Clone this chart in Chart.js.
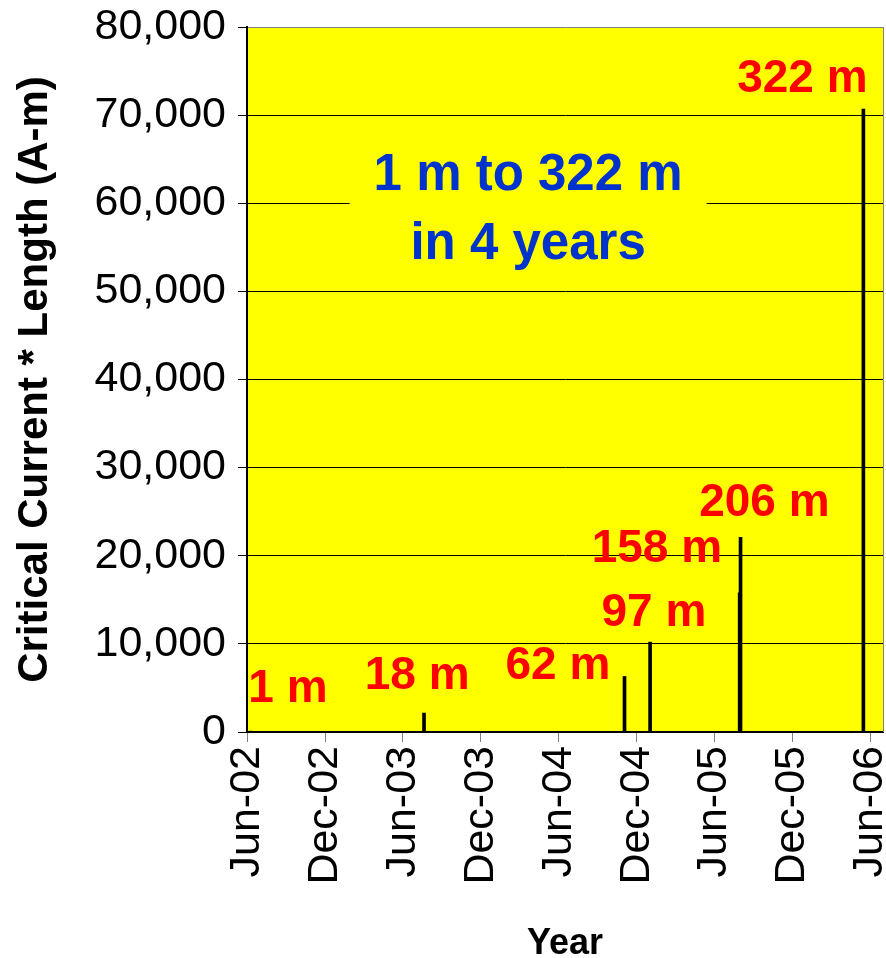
<!DOCTYPE html>
<html>
<head>
<meta charset="utf-8">
<script src="https://cdn.jsdelivr.net/npm/chart.js@4.4.1/dist/chart.umd.min.js"></script>
<style>
  html, body { margin: 0; padding: 0; background: #fff; }
</style>
</head>
<body>
<canvas id="chart" width="886" height="958"></canvas>
<script>
// Tape lengths and the Ic * L value reached at each date
const lengths = ['1 m', '18 m', '62 m', '97 m', '158 m', '206 m', '322 m'];
const sampleDates = ['2002-06-10', '2003-07-21', '2004-11-02', '2005-01-01', '2005-07-30', '2005-08-01', '2006-05-16'];
const icTimesLength = [100, 2150, 6300, 10200, 15800, 22100, 70700];

// Axis
const axisStart = '2002-06-01';
const axisEnd = '2006-07-01';
const tickDates = ['2002-06-01', '2002-12-01', '2003-06-01', '2003-12-01', '2004-06-01',
                   '2004-12-01', '2005-06-01', '2005-12-01', '2006-06-01'];
const yMax = 80000;
const yStep = 10000;

// Where each red length label sits (date of text centre, value at text baseline)
const labelDates = ['2002-09-05', '2003-07-05', '2004-05-30', '2005-01-10', '2005-01-17', '2005-09-26', '2005-12-24'];
const labelValues = [3400, 4880, 6000, 12030, 19290, 24510, 72620];

// Headline box
const headline = ['1 m to 322 m', 'in 4 years'];
const headlineDate = '2004-03-21';
const headlineValues = [61560, 53670];

const months = ['Jan', 'Feb', 'Mar', 'Apr', 'May', 'Jun', 'Jul', 'Aug', 'Sep', 'Oct', 'Nov', 'Dec'];
const FONT = "'Liberation Sans', Arial, sans-serif";

function dayNum(s) {
    const p = s.split('-').map(Number);
    return Date.UTC(p[0], p[1] - 1, p[2]) / 864e5;
}
function fmtDate(v) {
    const d = new Date(Math.round(v) * 864e5);
    return months[d.getUTCMonth()] + '-' + String(d.getUTCFullYear() % 100).padStart(2, '0');
}

const points = sampleDates.map((d, i) => ({ x: dayNum(d), y: icTimesLength[i] }));

// yellow plot area, headline box and the red labels
const decorations = {
    id: 'decorations',
    beforeDraw(chart) {
        const { ctx, chartArea: a } = chart;
        ctx.save();
        ctx.fillStyle = '#FFFF00';
        ctx.fillRect(a.left, a.top, a.right - a.left, a.bottom - a.top);
        ctx.restore();
    },
    beforeDatasetsDraw(chart) {
        const { ctx, scales: { x, y } } = chart;
        const cx = x.getPixelForValue(dayNum(headlineDate));
        ctx.save();
        ctx.font = 'bold 51px ' + FONT;
        const w = Math.max(...headline.map(t => ctx.measureText(t).width));
        const top = y.getPixelForValue(headlineValues[0]) - 46;
        const bottom = y.getPixelForValue(headlineValues[1]) + 16;
        ctx.fillStyle = '#FFFF00';
        ctx.fillRect(cx - w / 2 - 24, top, w + 48, bottom - top);
        ctx.fillStyle = '#0033CC';
        ctx.textAlign = 'center';
        ctx.textBaseline = 'alphabetic';
        headline.forEach((t, i) => ctx.fillText(t, cx, y.getPixelForValue(headlineValues[i])));
        ctx.restore();
    },
    afterDatasetsDraw(chart) {
        const { ctx, chartArea: a, scales: { x, y } } = chart;
        ctx.save();
        ctx.font = 'bold 46px ' + FONT;
        ctx.fillStyle = '#FF0000';
        ctx.textAlign = 'center';
        ctx.textBaseline = 'alphabetic';
        lengths.forEach((t, i) => {
            ctx.fillText(t, x.getPixelForValue(dayNum(labelDates[i])), y.getPixelForValue(labelValues[i]));
        });
        // right plot border
        ctx.strokeStyle = '#808080';
        ctx.lineWidth = 1;
        ctx.beginPath();
        ctx.moveTo(a.right + 0.5, a.top);
        ctx.lineTo(a.right + 0.5, a.bottom);
        ctx.stroke();
        ctx.restore();
    }
};

new Chart(document.getElementById('chart').getContext('2d'), {
    type: 'bar',
    data: {
        datasets: [{
            label: 'Ic * L',
            data: points,
            backgroundColor: '#000',
            barThickness: 3
        }]
    },
    options: {
        responsive: false,
        animation: false,
        devicePixelRatio: 1,
        layout: { padding: { top: 27, right: 3, left: 0, bottom: 0 } },
        plugins: { legend: { display: false }, tooltip: { enabled: false } },
        scales: {
            x: {
                type: 'linear',
                offset: false,
                min: dayNum(axisStart),
                max: dayNum(axisEnd),
                afterBuildTicks: s => { s.ticks = tickDates.map(d => ({ value: dayNum(d) })); },
                afterFit: s => {
                    s.height = 226;
                    s.paddingLeft = 0; s.paddingRight = 0;
                },
                grid: { offset: false, drawOnChartArea: false, tickLength: 10, tickColor: '#808080' },
                border: { color: '#000', width: 2 },
                ticks: {
                    autoSkip: false,
                    minRotation: 90,
                    maxRotation: 90,
                    padding: 4,
                    color: '#000',
                    font: { family: FONT, size: 43 },
                    callback: v => fmtDate(v)
                },
                title: {
                    display: true,
                    text: 'Year',
                    color: '#000',
                    font: { family: FONT, size: 36, weight: 'bold' },
                    padding: { top: 0, bottom: -8 }
                }
            },
            y: {
                min: 0,
                max: yMax,
                afterFit: s => {
                    s.width = 247;
                    s.paddingTop = 0; s.paddingBottom = 0;
                },
                grid: {
                    color: c => c.tick && c.tick.value === yMax ? '#808080' : '#000',
                    tickColor: '#000',
                    tickLength: 9,
                    lineWidth: 1
                },
                border: { color: '#000', width: 2 },
                ticks: {
                    stepSize: yStep,
                    padding: 12,
                    color: '#000',
                    font: { family: FONT, size: 43 },
                    callback: v => v.toLocaleString('en-US')
                },
                title: {
                    display: true,
                    text: 'Critical Current * Length (A-m)',
                    color: '#000',
                    font: { family: FONT, size: 42, weight: 'bold' },
                    padding: { top: 10, bottom: 0 }
                }
            }
        }
    },
    plugins: [decorations]
});
</script>
</body>
</html>
